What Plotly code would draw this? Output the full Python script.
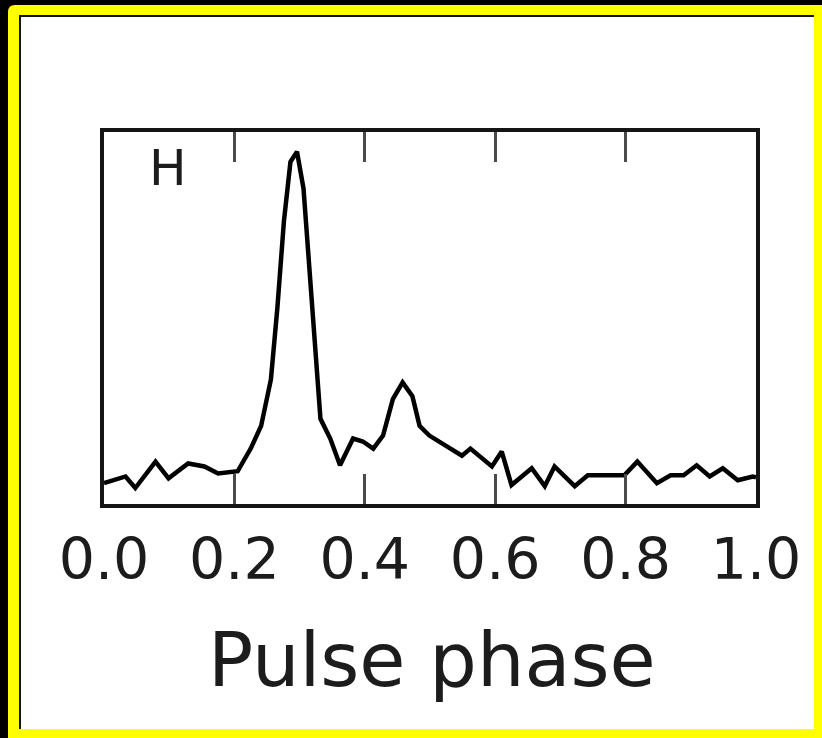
import plotly.graph_objects as go

# ---- data ----
phase = [0.000, 0.033, 0.048, 0.079, 0.099, 0.129, 0.154, 0.175, 0.205, 0.225,
         0.241, 0.256, 0.266, 0.276, 0.286, 0.296, 0.306, 0.317, 0.327, 0.332,
         0.347, 0.362, 0.382, 0.397, 0.413, 0.428, 0.443, 0.458, 0.473, 0.484,
         0.499, 0.524, 0.549, 0.562, 0.580, 0.595, 0.610, 0.625, 0.656, 0.676,
         0.691, 0.722, 0.742, 0.772, 0.798, 0.818, 0.848, 0.869, 0.889, 0.909,
         0.929, 0.949, 0.972, 0.995, 1.000]
flux = [0.056, 0.074, 0.043, 0.114, 0.069, 0.109, 0.101, 0.082, 0.088, 0.149,
        0.210, 0.335, 0.529, 0.761, 0.920, 0.947, 0.848, 0.582, 0.316, 0.229,
        0.176, 0.104, 0.176, 0.168, 0.149, 0.184, 0.282, 0.327, 0.290, 0.210,
        0.184, 0.157, 0.130, 0.149, 0.122, 0.101, 0.141, 0.051, 0.096, 0.048,
        0.101, 0.048, 0.077, 0.077, 0.077, 0.114, 0.056, 0.077, 0.077, 0.104,
        0.074, 0.096, 0.064, 0.074, 0.072]
tick_vals = [0.0, 0.2, 0.4, 0.6, 0.8, 1.0]
tick_text = ["0.0", "0.2", "0.4", "0.6", "0.8", "1.0"]
panel_label = "H"
x_title = "Pulse phase"

# ---- layout geometry ----
W, H = 822, 738
L, R, T, B = 104, 66, 132, 234
PW, PH = W - L - R, H - T - B


def fx(px):
    return (px - L) / PW


def fy(py):
    return (H - B - py) / PH


FONT = "DejaVu Sans"
TXT = "#1c1c1c"

fig = go.Figure()
fig.add_trace(go.Scatter(x=phase, y=flux, mode="lines",
                         line=dict(color="black", width=4.5),
                         showlegend=False, hoverinfo="skip"))

shapes = [
    # yellow frame with rounded top-left corner
    dict(type="path", xref="paper", yref="paper", layer="below",
         path=(f"M {fx(8)},{fy(12)} Q {fx(8)},{fy(5)} {fx(15)},{fy(5)} "
               f"L {fx(823)},{fy(5)} L {fx(823)},{fy(739)} L {fx(8)},{fy(739)} Z"),
         fillcolor="#ffff00", line=dict(width=0)),
    # dark inner edge
    dict(type="rect", xref="paper", yref="paper", layer="below",
         x0=fx(19), x1=fx(814), y0=fy(15), y1=fy(729),
         fillcolor="#111111", line=dict(width=0)),
    # white page
    dict(type="rect", xref="paper", yref="paper", layer="below",
         x0=fx(21), x1=fx(814), y0=fy(17), y1=fy(729),
         fillcolor="white", line=dict(width=0)),
]

fig.update_layout(
    width=W, height=H,
    margin=dict(l=L, r=R, t=T, b=B, pad=0),
    paper_bgcolor="black",
    plot_bgcolor="white",
    shapes=shapes,
    annotations=[
        dict(text=panel_label, xref="paper", yref="paper",
             x=fx(168), y=fy(168), xanchor="center", yanchor="middle",
             showarrow=False, font=dict(family=FONT, size=50, color=TXT)),
        dict(text=x_title, xref="paper", yref="paper",
             x=fx(432), y=fy(660), xanchor="center", yanchor="middle",
             showarrow=False, font=dict(family=FONT, size=75, color=TXT)),
    ],
)

fig.update_xaxes(
    range=[0, 1], tickvals=tick_vals, ticktext=tick_text,
    ticks="inside", ticklen=30, tickwidth=3, tickcolor="#4a4a4a",
    showline=True, linewidth=4, linecolor="#151515", mirror="ticks",
    showgrid=False, zeroline=False,
    tickfont=dict(family=FONT, size=57, color=TXT),
    ticklabelstandoff=3,
)
fig.update_yaxes(
    range=[0, 1], showticklabels=False, ticks="",
    showline=True, linewidth=4, linecolor="#151515", mirror=True,
    showgrid=False, zeroline=False,
)

fig.write_html(
    "out.html",
    config={"displayModeBar": False, "staticPlot": True},
    post_script=("document.body.style.margin='0';"
                 "document.body.style.padding='0';"
                 "document.body.style.background='black';"
                 "document.body.style.overflow='hidden';"),
)
